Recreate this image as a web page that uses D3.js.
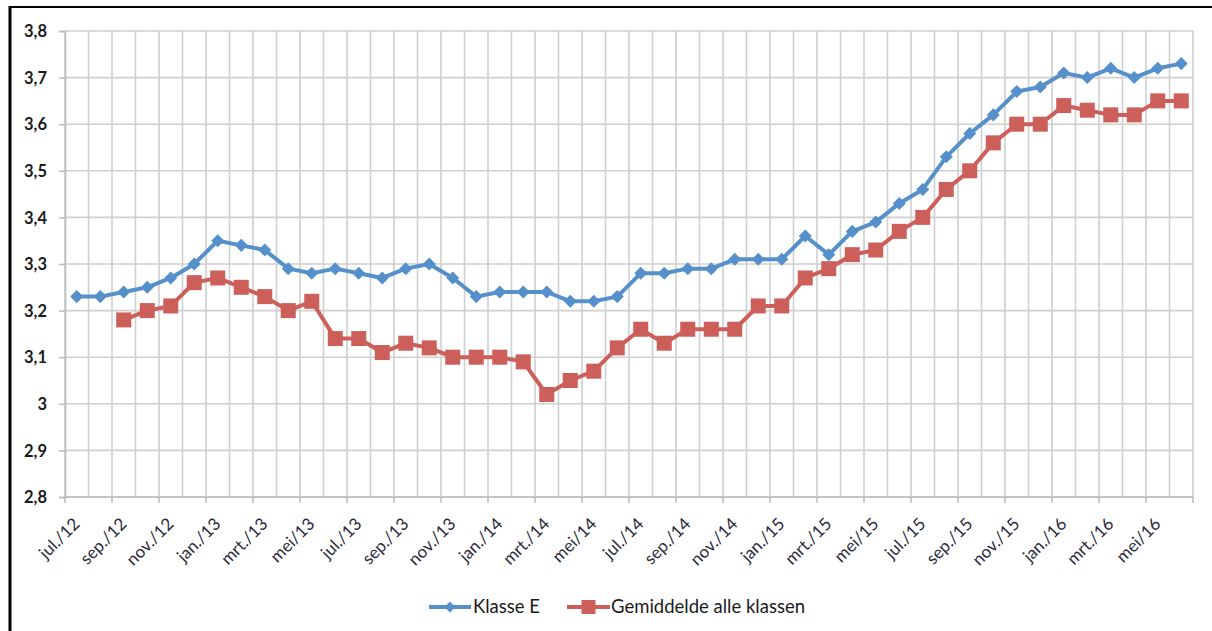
<!DOCTYPE html>
<html>
<head>
<meta charset="utf-8">
<script src="https://cdn.jsdelivr.net/npm/d3@7"></script>
<style>
  html, body { margin: 0; padding: 0; background: #fff; }
  svg { display: block; }
  text { font-family: "Lato", "Open Sans", sans-serif; }
</style>
</head>
<body>
<svg id="chart" width="1212" height="631"></svg>
<script>
const months = [
  "jul./12","aug./12","sep./12","okt./12","nov./12","dec./12",
  "jan./13","feb./13","mrt./13","apr./13","mei/13","jun./13",
  "jul./13","aug./13","sep./13","okt./13","nov./13","dec./13",
  "jan./14","feb./14","mrt./14","apr./14","mei/14","jun./14",
  "jul./14","aug./14","sep./14","okt./14","nov./14","dec./14",
  "jan./15","feb./15","mrt./15","apr./15","mei/15","jun./15",
  "jul./15","aug./15","sep./15","okt./15","nov./15","dec./15",
  "jan./16","feb./16","mrt./16","apr./16","mei/16","jun./16"
];
const klasseE = [
  3.23,3.23,3.24,3.25,3.27,3.30,
  3.35,3.34,3.33,3.29,3.28,3.29,
  3.28,3.27,3.29,3.30,3.27,3.23,
  3.24,3.24,3.24,3.22,3.22,3.23,
  3.28,3.28,3.29,3.29,3.31,3.31,
  3.31,3.36,3.32,3.37,3.39,3.43,
  3.46,3.53,3.58,3.62,3.67,3.68,
  3.71,3.70,3.72,3.70,3.72,3.73
];
const gemiddelde = [
  null,null,3.18,3.20,3.21,3.26,
  3.27,3.25,3.23,3.20,3.22,3.14,
  3.14,3.11,3.13,3.12,3.10,3.10,
  3.10,3.09,3.02,3.05,3.07,3.12,
  3.16,3.13,3.16,3.16,3.16,3.21,
  3.21,3.27,3.29,3.32,3.33,3.37,
  3.40,3.46,3.50,3.56,3.60,3.60,
  3.64,3.63,3.62,3.62,3.65,3.65
];
const yTicks = [2.8,2.9,3.0,3.1,3.2,3.3,3.4,3.5,3.6,3.7,3.8];
const seriesNames = ["Klasse E","Gemiddelde alle klassen"];
const seriesColors = ["#5590cb","#cd5f5a"];

const svg = d3.select("#chart");
const W = 1212, H = 631;
const L = 65, R = 1193, T = 31, B = 497;

// frame
svg.append("line").attr("x1",9).attr("x2",W).attr("y1",7).attr("y2",7).attr("stroke","#000").attr("stroke-width",2);
svg.append("line").attr("x1",10).attr("x2",10).attr("y1",6).attr("y2",H).attr("stroke","#000").attr("stroke-width",3);

const x = d3.scaleBand().domain(months).range([L, R]).padding(0);
const y = d3.scaleLinear().domain([2.8, 3.8]).range([B, T]);
const cx = d => x(d) + x.bandwidth()/2;

const grid = svg.append("g");
grid.selectAll("line.h").data(yTicks).join("line")
  .attr("x1", L).attr("x2", R)
  .attr("y1", d => y(d)).attr("y2", d => y(d))
  .attr("stroke", "#cfcfcf").attr("stroke-width", 1.6);
const bounds = months.map(m => x(m)).concat([R]);
grid.selectAll("line.v").data(bounds).join("line")
  .attr("x1", d => d).attr("x2", d => d)
  .attr("y1", T).attr("y2", B)
  .attr("stroke", "#cfcfcf").attr("stroke-width", 1.6);

// y axis
const yAxis = d3.axisLeft(y).tickValues(yTicks).tickSize(6)
  .tickFormat(d => d3.format(".1f")(d).replace(".0","").replace(".", ","));
const gy = svg.append("g").attr("transform", `translate(${L},0)`).call(yAxis);
gy.select(".domain").attr("stroke", "#bdbdbd").attr("stroke-width", 1.6);
gy.selectAll(".tick line").attr("stroke", "#bdbdbd").attr("stroke-width", 1.6);
gy.selectAll(".tick text").attr("x", -18).attr("dy", "0.35em")
  .style("font-size", "16.5px").style("font-weight", "700").attr("fill", "#1a1a1a");

// x axis
const labelMonths = months.filter((m, i) => i % 2 === 0);
const gx = svg.append("g").attr("transform", `translate(0,${B})`);
gx.append("line").attr("x1", L).attr("x2", R).attr("stroke", "#bdbdbd").attr("stroke-width", 1.6);
gx.selectAll("line.t").data(labelMonths.concat(["__end"])).join("line")
  .attr("x1", d => d === "__end" ? R : x(d)).attr("x2", d => d === "__end" ? R : x(d))
  .attr("y1", 0).attr("y2", 6).attr("stroke", "#bdbdbd").attr("stroke-width", 1.6);
gx.selectAll("text").data(labelMonths).join("text")
  .attr("transform", d => `translate(${cx(d) + 4},${28}) rotate(-45)`)
  .attr("text-anchor", "end")
  .style("font-size", "17px").attr("fill", "#2a2a3a")
  .text(d => d);

// lines
const line = d3.line().defined(d => d.v != null).x(d => cx(d.m)).y(d => y(d.v));
const data = [klasseE, gemiddelde].map(arr => arr.map((v, i) => ({ m: months[i], v })));

svg.append("path").datum(data[0]).attr("d", line).attr("fill", "none")
  .attr("stroke", seriesColors[0]).attr("stroke-width", 4).attr("stroke-linejoin", "round");
svg.append("path").datum(data[1]).attr("d", line).attr("fill", "none")
  .attr("stroke", seriesColors[1]).attr("stroke-width", 4).attr("stroke-linejoin", "round");

svg.append("g").selectAll("path").data(data[0].filter(d => d.v != null)).join("path")
  .attr("transform", d => `translate(${cx(d.m)},${y(d.v)}) rotate(45)`)
  .attr("d", d3.symbol().type(d3.symbolSquare).size(85)())
  .attr("fill", seriesColors[0]);
svg.append("g").selectAll("rect").data(data[1].filter(d => d.v != null)).join("rect")
  .attr("x", d => cx(d.m) - 7.5).attr("y", d => y(d.v) - 7.5)
  .attr("width", 15).attr("height", 15)
  .attr("fill", seriesColors[1]);

// legend
const lg = svg.append("g");
const legendItems = [
  { name: seriesNames[0], color: seriesColors[0], x0: 429, x1: 471, tx: 473, marker: "diamond" },
  { name: seriesNames[1], color: seriesColors[1], x0: 567, x1: 610, tx: 611, marker: "square" }
];
const ly = 607;
legendItems.forEach(it => {
  lg.append("line").attr("x1", it.x0).attr("x2", it.x1).attr("y1", ly).attr("y2", ly)
    .attr("stroke", it.color).attr("stroke-width", 4);
  const mx = (it.x0 + it.x1) / 2;
  if (it.marker === "diamond") {
    lg.append("path").attr("transform", `translate(${mx},${ly}) rotate(45)`)
      .attr("d", d3.symbol().type(d3.symbolSquare).size(60)()).attr("fill", it.color);
  } else {
    lg.append("rect").attr("x", mx - 7).attr("y", ly - 7).attr("width", 14).attr("height", 14).attr("fill", it.color);
  }
  lg.append("text").attr("x", it.tx).attr("y", ly).attr("dy", "0.35em")
    .style("font-size", "18.5px").attr("fill", "#1a1a1a").text(it.name);
});
</script>
</body>
</html>
